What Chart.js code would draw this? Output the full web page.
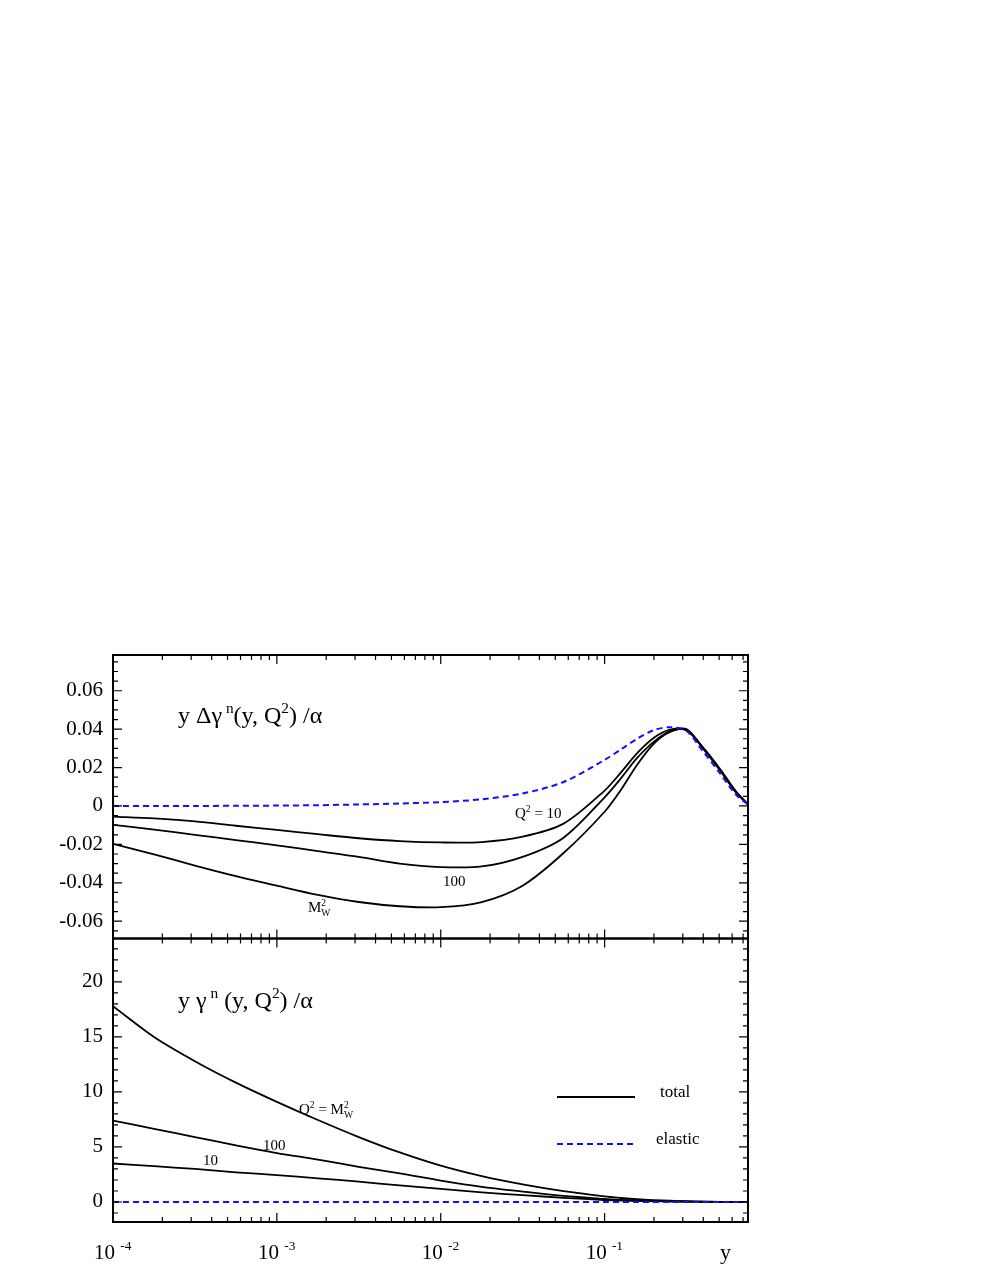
<!DOCTYPE html>
<html>
<head>
<meta charset="utf-8">
<script src="https://cdn.jsdelivr.net/npm/chart.js@4.4.0/dist/chart.umd.min.js"></script>
<style>
html, body { margin: 0; padding: 0; background: #fff; }
#wrap { position: relative; width: 981px; height: 1269px; }
</style>
</head>
<body>
<div id="wrap"><canvas id="photonChart" width="981" height="1269"></canvas></div>
<script>
// sample points in y (momentum fraction), roughly even in log y
const yGrid = [1e-4, 1.78e-4, 3.16e-4, 5.62e-4, 1e-3, 1.78e-3, 3.16e-3, 5.62e-3, 0.01, 0.0178, 0.0316, 0.0562,
               0.1, 0.126, 0.158, 0.2, 0.251, 0.316, 0.398, 0.501, 0.631, 0.75];

// upper panel: y Δγ^n(y,Q²)/α
const polQ10   = [-0.0055, -0.0065, -0.008, -0.0103, -0.0125, -0.0147, -0.0168, -0.0183, -0.019, -0.0188, -0.016, -0.0092,
                  0.008, 0.0175, 0.0275, 0.0355, 0.0397, 0.0395, 0.0305, 0.0198, 0.0078, 0.0008];
const polQ100  = [-0.0098, -0.0123, -0.015, -0.0178, -0.0205, -0.0235, -0.0265, -0.030, -0.0318, -0.0315, -0.0265, -0.0165,
                  0.0045, 0.0145, 0.025, 0.0335, 0.039, 0.0395, 0.0303, 0.0195, 0.0075, 0.0008];
const polMW    = [-0.0197, -0.0252, -0.031, -0.0365, -0.0415, -0.0463, -0.050, -0.0522, -0.0527, -0.050, -0.0415, -0.0245,
                  -0.003, 0.0085, 0.0215, 0.0325, 0.0385, 0.040, 0.030, 0.019, 0.0072, 0.0008];
const polElastic = [0, 0, 0, 0.0001, 0.0002, 0.0004, 0.0008, 0.0013, 0.002, 0.0035, 0.0065, 0.0125,
                  0.024, 0.0295, 0.035, 0.0395, 0.041, 0.039, 0.0285, 0.0175, 0.006, 0.0008];

// lower panel: y γ^n(y,Q²)/α
const unpMW    = [17.8, 15.0, 12.8, 10.85, 9.1, 7.45, 5.9, 4.5, 3.3, 2.35, 1.6, 0.98,
                  0.5, 0.36, 0.25, 0.17, 0.11, 0.065, 0.032, 0.014, 0.004, 0];
const unpQ100  = [7.4, 6.65, 5.9, 5.15, 4.45, 3.85, 3.2, 2.6, 1.95, 1.38, 0.95, 0.55,
                  0.28, 0.2, 0.14, 0.1, 0.07, 0.04, 0.02, 0.01, 0.003, 0];
const unpQ10   = [3.5, 3.25, 3.0, 2.7, 2.45, 2.15, 1.85, 1.5, 1.2, 0.88, 0.62, 0.38,
                  0.18, 0.13, 0.09, 0.06, 0.04, 0.025, 0.012, 0.005, 0.002, 0];
const unpElastic = [0, 0, 0, 0, 0, 0, 0, 0, 0, 0, 0, 0,
                  0, 0, 0, 0, 0, 0, 0, 0, 0, 0];

const topTicks = [-0.06, -0.04, -0.02, 0, 0.02, 0.04, 0.06];
const botTicks = [0, 5, 10, 15, 20];
const xDecades = [-4, -3, -2, -1];

const SERIF = '"Liberation Serif", "Times New Roman", serif';
const BLUE = '#1010ff';

function pairs(vals) {
  return vals.map((v, i) => ({ x: yGrid[i], y: v }));
}

function solid(vals, axis) {
  return { data: pairs(vals), yAxisID: axis, borderColor: '#000', borderWidth: 1.8,
           pointRadius: 0, fill: false, tension: 0.3 };
}
function dashed(vals, axis) {
  return { data: pairs(vals), yAxisID: axis, borderColor: BLUE, borderWidth: 2, borderDash: [6, 4],
           pointRadius: 0, fill: false, tension: 0.3 };
}

function drawRich(ctx, x, y, parts, size) {
  ctx.textAlign = 'left';
  ctx.textBaseline = 'alphabetic';
  parts.forEach(p => {
    const s = (p.sup || p.sub) ? size * 0.64 : size;
    ctx.font = s + 'px ' + SERIF;
    const dy = p.sup ? -size * 0.42 : (p.sub ? size * 0.25 : 0);
    ctx.fillText(p.t, x, y + dy);
    if (!p.stay) x += ctx.measureText(p.t).width;
  });
}

const framePlugin = {
  id: 'frame',
  afterDraw(chart) {
    const ctx = chart.ctx;
    const xs = chart.scales.x;
    const panels = [chart.scales.yTop, chart.scales.yBot];
    const left = chart.chartArea.left, right = chart.chartArea.right;
    ctx.save();
    ctx.strokeStyle = '#000';
    ctx.fillStyle = '#000';

    // x ticks on the top/bottom edge of each panel
    ctx.lineWidth = 1.2;
    const xTickPos = [];
    xDecades.forEach(d => {
      for (let m = 1; m <= 9; m++) {
        const v = m * Math.pow(10, d);
        if (v <= xs.max) xTickPos.push({ px: xs.getPixelForValue(v), major: m === 1 });
      }
    });
    panels.forEach(p => {
      xTickPos.forEach(t => {
        const len = t.major ? 9 : 5;
        ctx.beginPath();
        ctx.moveTo(t.px, p.top); ctx.lineTo(t.px, p.top + len);
        ctx.moveTo(t.px, p.bottom); ctx.lineTo(t.px, p.bottom - len);
        ctx.stroke();
      });
    });

    // y ticks, left and right
    const yMinor = [{ s: chart.scales.yTop, step: 0.005, major: 0.02 },
                    { s: chart.scales.yBot, step: 1, major: 5 }];
    yMinor.forEach(o => {
      const s = o.s;
      const n0 = Math.ceil(s.min / o.step), n1 = Math.floor(s.max / o.step);
      for (let n = n0; n <= n1; n++) {
        const v = n * o.step;
        const py = s.getPixelForValue(v);
        const isMajor = Math.abs(v / o.major - Math.round(v / o.major)) < 1e-6;
        const len = isMajor ? 9 : 5;
        ctx.beginPath();
        ctx.moveTo(left, py); ctx.lineTo(left + len, py);
        ctx.moveTo(right, py); ctx.lineTo(right - len, py);
        ctx.stroke();
      }
    });

    // frames
    ctx.lineWidth = 2;
    panels.forEach(p => ctx.strokeRect(left, p.top, right - left, p.bottom - p.top));

    // x tick labels 10^-n
    const bottom = chart.scales.yBot.bottom;
    xDecades.forEach(d => {
      const px = xs.getPixelForValue(Math.pow(10, d));
      ctx.font = '21px ' + SERIF;
      const wBase = ctx.measureText('10 ').width;
      ctx.font = '14px ' + SERIF;
      const wExp = ctx.measureText(String(d)).width;
      const x0 = px - (wBase + wExp) / 2;
      drawRich(ctx, x0, bottom + 37, [{ t: '10 ' }, { t: String(d), sup: true }], 21);
    });
    ctx.font = '22px ' + SERIF;
    ctx.fillText('y', 720, bottom + 37);

    // panel titles
    drawRich(ctx, 178, 723, [{ t: 'y Δγ' }, { t: ' n', sup: true }, { t: '(y, Q' }, { t: '2', sup: true }, { t: ') /α' }], 24);
    drawRich(ctx, 178, 1008, [{ t: 'y γ' }, { t: ' n', sup: true }, { t: ' (y, Q' }, { t: '2', sup: true }, { t: ') /α' }], 24);

    // curve labels, upper panel
    drawRich(ctx, 515, 818, [{ t: 'Q' }, { t: '2', sup: true }, { t: ' = 10' }], 15);
    drawRich(ctx, 443, 886, [{ t: '100' }], 15);
    drawRich(ctx, 308, 912, [{ t: 'M' }, { t: 'W', sub: true, stay: true }, { t: '2', sup: true }], 15);
    // curve labels, lower panel
    drawRich(ctx, 299, 1114, [{ t: 'Q' }, { t: '2', sup: true }, { t: ' = M' }, { t: 'W', sub: true, stay: true }, { t: '2', sup: true }], 15);
    drawRich(ctx, 263, 1150, [{ t: '100' }], 15);
    drawRich(ctx, 203, 1165, [{ t: '10' }], 15);

    // legend
    ctx.lineWidth = 2;
    ctx.strokeStyle = '#000';
    ctx.beginPath(); ctx.moveTo(557, 1097); ctx.lineTo(635, 1097); ctx.stroke();
    ctx.strokeStyle = BLUE;
    ctx.setLineDash([6, 4]);
    ctx.beginPath(); ctx.moveTo(557, 1144); ctx.lineTo(635, 1144); ctx.stroke();
    ctx.setLineDash([]);
    drawRich(ctx, 660, 1097, [{ t: 'total' }], 17);
    drawRich(ctx, 656, 1144, [{ t: 'elastic' }], 17);
    ctx.restore();
  }
};

const tickFont = { family: SERIF, size: 21 };

new Chart(document.getElementById('photonChart'), {
  type: 'line',
  data: {
    datasets: [
      dashed(polElastic, 'yTop'),
      dashed(unpElastic, 'yBot'),
      solid(polQ10, 'yTop'),
      solid(polQ100, 'yTop'),
      solid(polMW, 'yTop'),
      solid(unpQ10, 'yBot'),
      solid(unpQ100, 'yBot'),
      solid(unpMW, 'yBot')
    ]
  },
  options: {
    responsive: false,
    animation: false,
    devicePixelRatio: 1,
    layout: { padding: { top: 655, right: 233, left: 0, bottom: 0 } },
    plugins: { legend: { display: false }, tooltip: { enabled: false } },
    scales: {
      x: {
        type: 'logarithmic', min: 1e-4, max: 0.75,
        afterFit: s => { s.height = 47; },
        ticks: { display: false },
        grid: { display: false },
        border: { display: false }
      },
      // stacked axes are placed bottom-up in the order listed
      yBot: {
        type: 'linear', position: 'left', stack: 'panels', stackWeight: 1,
        min: -1.82, max: 23.95,
        afterFit: s => { s.width = 113; },
        afterBuildTicks: s => { s.ticks = botTicks.map(v => ({ value: v })); },
        ticks: { font: tickFont, color: '#000', padding: 10, autoSkip: false, callback: v => String(v) },
        grid: { display: false, drawTicks: false },
        border: { display: false }
      },
      yTop: {
        type: 'linear', position: 'left', stack: 'panels', stackWeight: 1,
        min: -0.069, max: 0.0786,
        afterFit: s => { s.width = 113; },
        afterBuildTicks: s => { s.ticks = topTicks.map(v => ({ value: v })); },
        ticks: { font: tickFont, color: '#000', padding: 10, autoSkip: false,
                 callback: v => (v === 0 ? '0' : v.toFixed(2)) },
        grid: { display: false, drawTicks: false },
        border: { display: false }
      }
    }
  },
  plugins: [framePlugin]
});
</script>
</body>
</html>
